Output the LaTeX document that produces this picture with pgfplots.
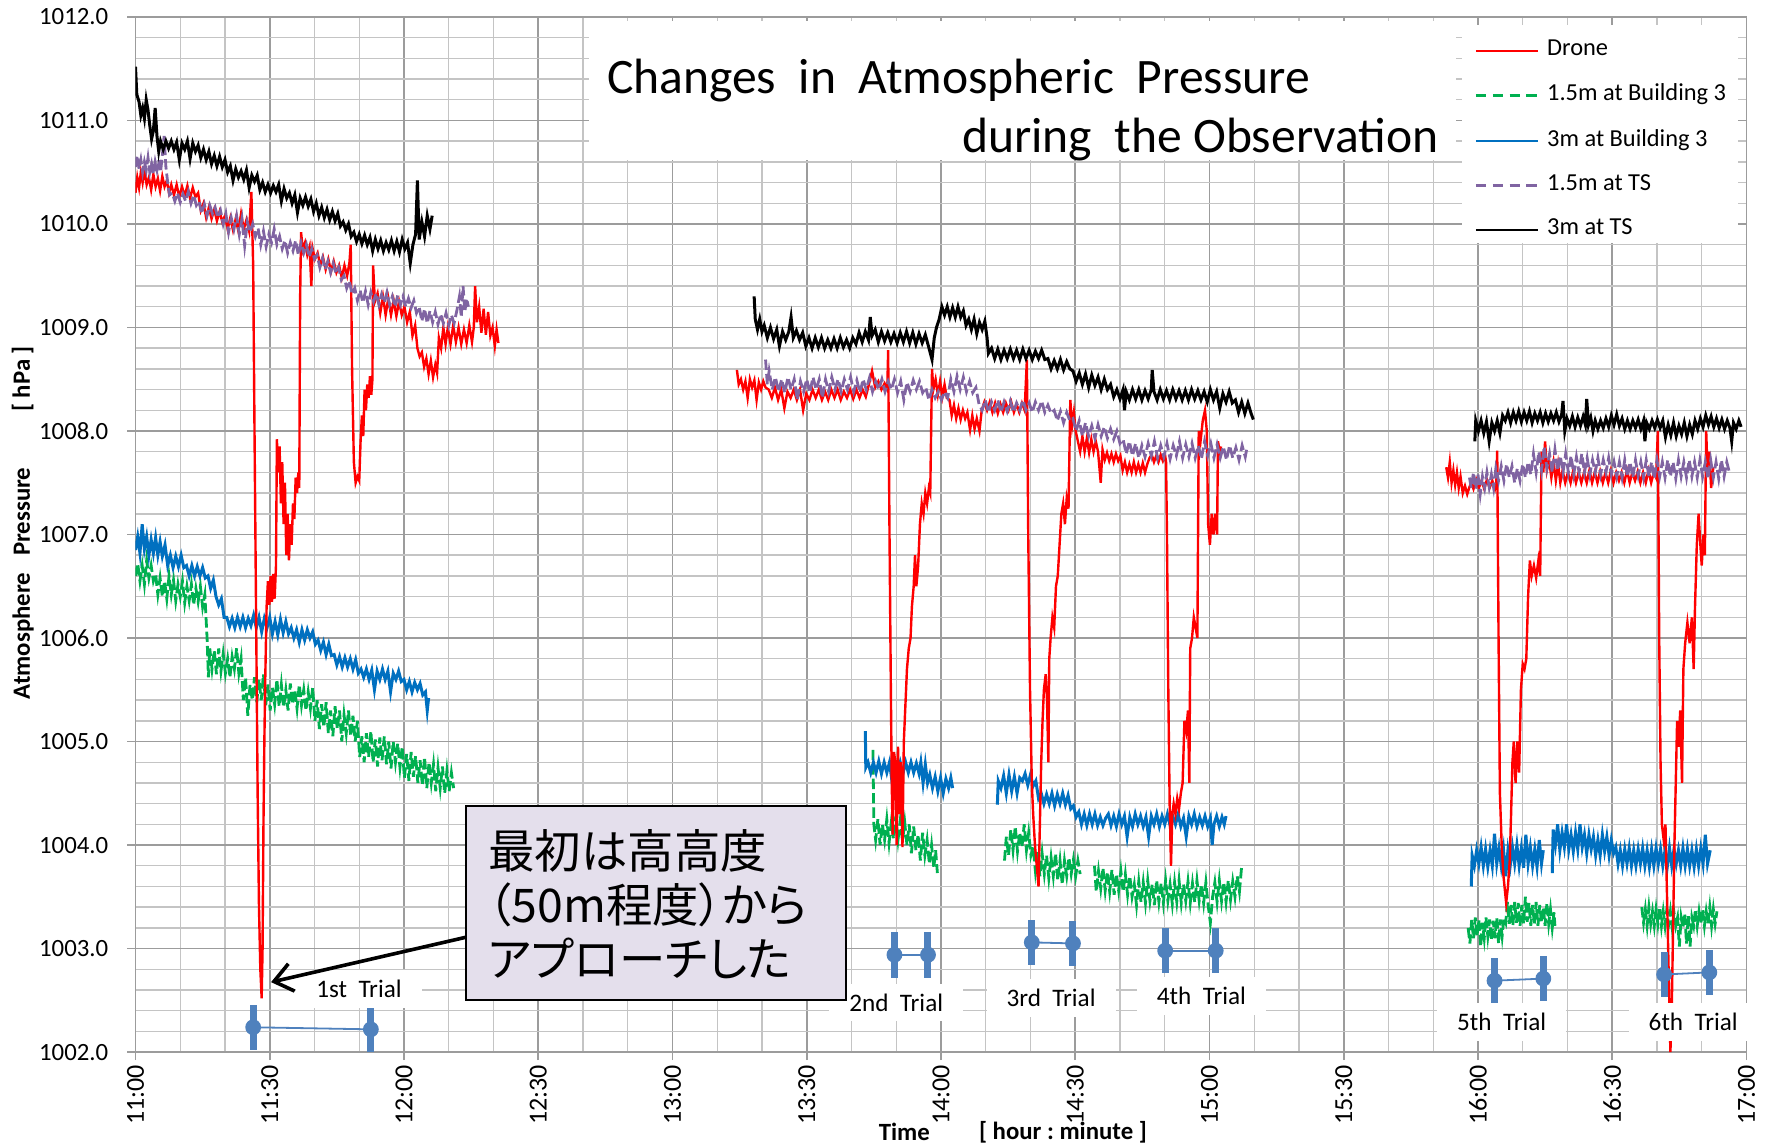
\documentclass[border=0pt]{standalone}
\usepackage{fontspec}
\setmainfont{Carlito}
\newfontfamily\cjk[RawFeature=+palt]{Noto Sans CJK JP}
\usepackage{pgfplots}
\pgfplotsset{compat=1.18}
\usetikzlibrary{arrows.meta}
\definecolor{drone}{HTML}{FF0000}
\definecolor{gB}{HTML}{00B050}
\definecolor{bB}{HTML}{0070C0}
\definecolor{pT}{HTML}{8064A2}
\definecolor{trial}{HTML}{4F81BD}
\definecolor{majgrid}{HTML}{9C9C9C}
\definecolor{mingrid}{HTML}{C4C4C4}
\definecolor{annot}{HTML}{E4DFEC}
\newcommand{\ticksz}{\fontsize{6.2pt}{7pt}\selectfont}
\newcommand{\xticksz}{\fontsize{6.5pt}{7pt}\selectfont}
\newcommand{\legsz}{\fontsize{6.1pt}{7pt}\selectfont}
\newcommand{\titlesz}{\fontsize{12.4pt}{14pt}\selectfont}
\newcommand{\trialsz}{\fontsize{6.3pt}{7pt}\selectfont}
\newcommand{\labsz}{\fontsize{6.2pt}{7pt}\selectfont\bfseries}
\newcommand{\notesz}{\fontsize{11.6pt}{13.5pt}\selectfont}
\begin{document}
\begin{tikzpicture}
\path[use as bounding box] (-33.87pt,-23.45pt) rectangle (408.63pt,263.03pt);
\begin{axis}[
  at={(0,0)}, anchor=south west,
  scale only axis, width=402.75pt, height=258.8pt,
  xmin=0, xmax=360, ymin=1002, ymax=1012,
  xtick={0,30,...,360},
  xticklabels={11:00,11:30,12:00,12:30,13:00,13:30,14:00,14:30,15:00,15:30,16:00,16:30,17:00},
  ytick={1002,1003,...,1012},
  yticklabels={1002.0,1003.0,1004.0,1005.0,1006.0,1007.0,1008.0,1009.0,1010.0,1011.0,1012.0},
  minor xtick={10,20,40,50,70,80,100,110,130,140,160,170,190,200,220,230,250,260,280,290,310,320,340,350},
  minor ytick={1002.2,1002.4,1002.6,1002.8,1003.2,1003.4,1003.6,1003.8,1004.2,1004.4,1004.6,1004.8,1005.2,1005.4,1005.6,1005.8,1006.2,1006.4,1006.6,1006.8,1007.2,1007.4,1007.6,1007.8,1008.2,1008.4,1008.6,1008.8,1009.2,1009.4,1009.6,1009.8,1010.2,1010.4,1010.6,1010.8,1011.2,1011.4,1011.6,1011.8},
  grid=both,
  major grid style={majgrid, line width=0.42pt},
  minor grid style={mingrid, line width=0.36pt},
  axis line style={majgrid, line width=0.45pt},
  tick align=outside, major tick length=2pt, minor tick length=0pt,
  tick style={majgrid, line width=0.4pt},
  xtick pos=bottom, ytick pos=left,
  tick label style={font=\ticksz},
  xticklabel style={rotate=90, anchor=east, inner sep=1pt, font=\xticksz},
  yticklabel style={inner sep=1pt, xshift=-3.6pt},
  clip mode=individual,
  unbounded coords=jump,
  legend style={at={(0.8234,0.9978)}, anchor=north west, draw=none, fill=none, font=\legsz, inner xsep=3pt, inner ysep=3pt, row sep=1.6pt},
  legend image code/.code={\draw[#1] (0pt,0pt) -- (15.5pt,0pt);},
  legend cell align=left,
]
\addlegendimage{drone, line width=0.6pt}\addlegendentry{Drone}
\addlegendimage{gB, line width=0.6pt, dash pattern=on 2.6pt off 1.6pt}\addlegendentry{1.5m at Building 3}
\addlegendimage{bB, line width=0.6pt}\addlegendentry{3m at Building 3}
\addlegendimage{pT, line width=0.6pt, dash pattern=on 2.6pt off 1.6pt}\addlegendentry{1.5m at TS}
\addlegendimage{black, line width=0.6pt}\addlegendentry{3m at TS}

% 1.5m at Building 3
\addplot[gB, line width=0.7pt, dash pattern=on 2.6pt off 1pt, forget plot] coordinates {
(0,1006.6) (0.5,1006.72) (1.0,1006.55) (1.5,1006.7) (2.0,1006.52) (2.5,1006.75) (3.0,1006.58) (3.5,1006.7) (4.0,1006.55) (4.5,1006.62) (5.0,1006.42) (5.5,1006.58) (6.0,1006.4) (6.5,1006.55) (7.0,1006.38) (7.5,1006.6) (8.0,1006.42) (8.5,1006.56) (9.0,1006.36) (9.5,1006.52) (10.0,1006.4) (10.5,1006.55) (11.0,1006.34) (11.5,1006.5) (12.0,1006.36) (12.5,1006.52) (13.0,1006.32) (13.5,1006.48) (14.0,1006.35) (14.5,1006.5) (15.0,1006.3) (15.5,1006.42) (16.0,1006.0) (16.3,1005.62) (16.6,1005.9) (17.1,1005.7) (17.6,1005.88) (18.1,1005.65) (18.6,1005.9) (19.1,1005.68) (19.6,1005.85) (20.1,1005.66) (20.6,1005.8) (21.1,1005.62) (21.6,1005.82) (22.1,1005.7) (22.6,1005.9) (23.1,1005.66) (23.6,1005.8) (24.1,1005.4) (24.6,1005.62) (25.1,1005.25) (25.6,1005.55) (26.1,1005.4) (26.6,1005.62) (27.1,1005.38) (27.6,1005.6) (28.1,1005.4) (28.6,1005.65) (29.1,1005.35) (29.6,1005.55) (30.1,1005.3) (30.6,1005.52) (31.1,1005.36) (31.6,1005.6) (32.1,1005.34) (32.6,1005.55) (33.1,1005.33) (33.6,1005.5) (34.1,1005.3) (34.6,1005.56) (35.1,1005.36) (35.6,1005.5) (36.1,1005.32) (36.6,1005.55) (37.1,1005.35) (37.6,1005.5) (38.1,1005.3) (38.6,1005.48) (39.1,1005.32) (39.6,1005.52) (40.1,1005.2) (40.6,1005.4) (41.1,1005.12) (41.6,1005.36) (42.1,1005.14) (42.6,1005.38) (43.1,1005.08) (43.6,1005.3) (44.1,1005.05) (44.6,1005.34) (45.1,1005.12) (45.6,1005.3) (46.1,1005.0) (46.6,1005.26) (47.1,1005.08) (47.6,1005.3) (48.1,1005.05) (48.6,1005.25) (49.1,1005.0) (49.6,1005.2) (50.1,1004.85) (50.6,1005.05) (51.1,1004.8) (51.6,1005.08) (52.1,1004.85) (52.6,1005.1) (53.1,1004.8) (53.6,1005.02) (54.1,1004.76) (54.6,1005.04) (55.1,1004.82) (55.6,1005.05) (56.1,1004.78) (56.6,1005.0) (57.1,1004.74) (57.6,1005.0) (58.1,1004.8) (58.6,1004.98) (59.1,1004.75) (59.6,1004.95) (60.1,1004.65) (60.6,1004.88) (61.1,1004.62) (61.6,1004.9) (62.1,1004.66) (62.6,1004.86) (63.1,1004.6) (63.6,1004.82) (64.1,1004.58) (64.6,1004.85) (65.1,1004.55) (65.6,1004.8) (66.1,1004.6) (66.6,1004.78) (67.1,1004.52) (67.6,1004.75) (68.1,1004.55) (68.6,1004.76) (69.1,1004.5) (69.6,1004.72) (70.1,1004.52) (70.6,1004.7) (71.1,1004.55)
(120,nan)
(164.8,1004.92) (165.0,1004.2) (165.4,1004.05) (165.9,1004.25) (166.4,1004.0) (166.9,1004.2) (167.4,1004.05) (167.9,1004.25) (168.4,1004.02) (168.9,1004.22) (169.4,1004.06) (169.9,1004.28) (170.4,1004.05) (170.9,1004.24) (171.4,1004.04) (171.9,1004.22) (172.4,1004.0) (172.9,1004.2) (173.4,1003.92) (173.9,1004.18) (174.4,1003.95) (174.9,1004.1) (175.4,1003.85) (175.9,1004.12) (176.4,1003.9) (176.9,1004.05) (177.4,1003.82) (177.9,1004.0) (178.4,1003.78) (178.8,1003.95) (179.2,1003.73)
(185,nan)
(194.2,1003.85) (194.6,1004.08) (195.1,1003.9) (195.6,1004.15) (196.1,1003.95) (196.6,1004.18) (197.1,1003.94) (197.6,1004.12) (198.1,1003.98) (198.6,1004.2) (199.1,1003.95) (199.6,1004.12) (200.1,1003.9) (200.6,1003.98) (201.1,1003.75) (201.6,1003.95) (202.1,1003.7) (202.6,1003.92) (203.1,1003.72) (203.6,1003.9) (204.1,1003.68) (204.6,1003.88) (205.1,1003.7) (205.6,1003.92) (206.1,1003.66) (206.6,1003.85) (207.1,1003.62) (207.6,1003.85) (208.1,1003.7) (208.6,1003.88) (209.1,1003.72) (209.6,1003.86) (210.1,1003.7) (210.6,1003.85) (211.1,1003.72)
(212.5,nan)
(214.3,1003.8) (214.7,1003.55) (215.2,1003.75) (215.7,1003.58) (216.2,1003.78) (216.7,1003.56) (217.2,1003.74) (217.7,1003.55) (218.2,1003.76) (218.7,1003.52) (219.2,1003.72) (219.7,1003.56) (220.2,1003.75) (220.7,1003.55) (221.2,1003.72) (221.7,1003.52) (222.2,1003.7) (222.7,1003.5) (223.2,1003.62) (223.7,1003.42) (224.2,1003.65) (224.7,1003.45) (225.2,1003.64) (225.7,1003.44) (226.2,1003.66) (226.7,1003.46) (227.2,1003.62) (227.7,1003.42) (228.2,1003.66) (228.7,1003.45) (229.2,1003.63) (229.7,1003.44) (230.2,1003.66) (230.7,1003.46) (231.2,1003.62) (231.7,1003.43) (232.2,1003.64) (232.7,1003.45) (233.2,1003.66) (233.7,1003.44) (234.2,1003.62) (234.7,1003.46) (235.2,1003.65) (235.7,1003.44) (236.2,1003.63) (236.7,1003.45) (237.2,1003.66) (237.7,1003.46) (238.2,1003.62) (238.7,1003.44) (239.2,1003.64) (239.7,1003.42) (240.2,1003.25) (240.7,1003.5) (241.2,1003.64) (241.7,1003.45) (242.2,1003.66) (242.7,1003.46) (243.2,1003.64) (243.7,1003.45) (244.2,1003.66) (244.7,1003.47) (245.2,1003.65) (245.7,1003.5) (246.2,1003.7) (246.7,1003.55) (247.2,1003.8)
(270,nan)
(297.8,1003.2) (298.2,1003.05) (298.6,1003.28) (299.0,1003.1) (299.4,1003.3) (299.8,1003.12) (300.2,1003.28) (300.6,1003.02) (301.0,1003.25) (301.4,1003.1) (301.8,1003.3) (302.2,1003.12) (302.6,1003.28) (303.0,1003.08) (303.4,1003.27) (303.8,1003.1) (304.2,1003.3) (304.6,1003.05) (305.0,1003.28) (305.4,1003.12) (305.8,1003.3) (306.2,1003.25) (306.6,1003.45) (307.0,1003.24) (307.4,1003.42) (307.8,1003.22) (308.2,1003.45) (308.6,1003.25) (309.0,1003.44) (309.4,1003.22) (309.8,1003.42) (310.2,1003.24) (310.6,1003.5) (311.0,1003.26) (311.4,1003.44) (311.8,1003.22) (312.2,1003.42) (312.6,1003.24) (313.0,1003.45) (313.4,1003.22) (313.8,1003.42) (314.2,1003.25) (314.6,1003.4) (315.0,1003.22) (315.4,1003.44) (315.8,1003.24) (316.2,1003.38) (316.6,1003.2) (317.0,1003.35) (317.2,1003.22)
(325,nan)
(336.6,1003.4) (337.0,1003.25) (337.4,1003.38) (337.8,1003.22) (338.2,1003.4) (338.6,1003.24) (339.0,1003.36) (339.4,1003.22) (339.8,1003.38) (340.2,1003.24) (340.6,1003.4) (341.0,1003.22) (341.4,1003.36) (341.8,1003.22) (342.2,1003.38) (342.6,1003.23) (343.0,1003.36) (343.4,1003.2) (343.8,1003.35) (344.2,1003.22) (344.6,1003.3) (345.0,1003.02) (345.4,1003.3) (345.8,1003.2) (346.2,1003.34) (346.6,1003.05) (347.0,1003.32) (347.4,1003.02) (347.8,1003.3) (348.2,1003.22) (348.6,1003.38) (349.0,1003.22) (349.4,1003.36) (349.8,1003.24) (350.2,1003.38) (350.6,1003.22) (351.0,1003.36) (351.4,1003.24) (351.8,1003.4) (352.2,1003.22) (352.6,1003.38) (353.0,1003.24) (353.4,1003.36)
};

% 3m at Building 3
\addplot[bB, line width=0.75pt, forget plot] coordinates {
(0,1006.85) (0.5,1006.98) (1.0,1006.82) (1.5,1007.1) (2.0,1006.86) (2.5,1006.98) (3.0,1006.8) (3.5,1006.95) (4.0,1006.82) (4.5,1006.97) (5.0,1006.8) (5.5,1006.93) (6.0,1006.79) (6.6,1006.9) (7.2,1006.7) (7.8,1006.8) (8.4,1006.68) (9.0,1006.79) (9.6,1006.69) (10.2,1006.8) (10.8,1006.68) (11.4,1006.7) (12.0,1006.6) (12.6,1006.7) (13.2,1006.6) (13.8,1006.69) (14.4,1006.6) (15.0,1006.68) (15.6,1006.58) (16.2,1006.6) (16.8,1006.48) (17.4,1006.56) (18.0,1006.4) (18.6,1006.32) (19.2,1006.38) (19.8,1006.2) (20.4,1006.2) (21.0,1006.11) (21.6,1006.19) (22.2,1006.1) (22.8,1006.2) (23.4,1006.11) (24.0,1006.2) (24.6,1006.1) (25.2,1006.19) (25.8,1006.12) (26.4,1006.22) (27.0,1006.1) (27.6,1006.2) (28.2,1006.06) (28.8,1006.19) (29.4,1006.1) (30.0,1006.2) (30.6,1006.04) (31.2,1006.16) (31.8,1006.03) (32.4,1006.18) (33.0,1006.05) (33.6,1006.16) (34.2,1006.04) (34.8,1006.1) (35.4,1006.0) (36.0,1006.08) (36.6,1005.96) (37.2,1006.08) (37.8,1005.98) (38.4,1006.08) (39.0,1006.0) (39.6,1006.06) (40.2,1005.94) (40.8,1005.98) (41.4,1005.88) (42.0,1005.96) (42.6,1005.84) (43.2,1005.94) (43.8,1005.83) (44.4,1005.84) (45.0,1005.74) (45.6,1005.82) (46.2,1005.72) (46.8,1005.81) (47.4,1005.72) (48.0,1005.8) (48.6,1005.7) (49.2,1005.79) (49.8,1005.66) (50.4,1005.7) (51.0,1005.62) (51.6,1005.7) (52.2,1005.6) (52.8,1005.69) (53.4,1005.5) (54.0,1005.68) (54.6,1005.6) (55.2,1005.7) (55.8,1005.6) (56.4,1005.68) (57.0,1005.48) (57.6,1005.66) (58.2,1005.6) (58.8,1005.68) (59.4,1005.58) (60.0,1005.6) (60.6,1005.5) (61.2,1005.58) (61.8,1005.48) (62.4,1005.57) (63.0,1005.5) (63.6,1005.56) (64.2,1005.45) (64.8,1005.48) (65.2,1005.3) (65.5,1005.42)
(120,nan)
(163.1,1005.1) (163.2,1004.75) (163.7,1004.8) (164.3,1004.7) (164.9,1004.8) (165.5,1004.7) (166.1,1004.81) (166.7,1004.69) (167.3,1004.8) (167.9,1004.7) (168.5,1004.8) (169.1,1004.6) (169.7,1004.79) (170.3,1004.7) (170.9,1004.8) (171.5,1004.69) (172.1,1004.8) (172.7,1004.7) (173.3,1004.8) (173.9,1004.7) (174.5,1004.79) (175.1,1004.69) (175.5,1004.8) (176.0,1004.6) (176.5,1004.78) (177.0,1004.6) (177.5,1004.68) (178.1,1004.55) (178.7,1004.66) (179.3,1004.52) (179.9,1004.65) (180.5,1004.5) (181.1,1004.64) (181.7,1004.55) (182.2,1004.65) (182.6,1004.55)
(187,nan)
(192.6,1004.39) (192.8,1004.62) (193.4,1004.55) (194.0,1004.67) (194.6,1004.5) (195.2,1004.68) (195.8,1004.52) (196.4,1004.66) (197.0,1004.5) (197.6,1004.65) (198.2,1004.62) (198.8,1004.69) (199.4,1004.58) (200.0,1004.68) (200.6,1004.57) (201.2,1004.62) (201.8,1004.45) (202.4,1004.5) (203.0,1004.4) (203.6,1004.49) (204.2,1004.4) (204.8,1004.5) (205.4,1004.38) (206.0,1004.49) (206.6,1004.4) (207.2,1004.5) (207.8,1004.39) (208.4,1004.48) (209.0,1004.35) (209.6,1004.38) (210.2,1004.27) (210.8,1004.32) (211.4,1004.2) (212.0,1004.3) (212.6,1004.19) (213.2,1004.3) (213.8,1004.2) (214.4,1004.3) (215.0,1004.19) (215.6,1004.27) (216.2,1004.19) (216.8,1004.26) (217.4,1004.3) (218.0,1004.19) (218.6,1004.28) (219.2,1004.18) (219.8,1004.3) (220.4,1004.2) (221.0,1004.28) (221.6,1004.08) (222.2,1004.27) (222.8,1004.18) (223.4,1004.3) (224.0,1004.2) (224.6,1004.28) (225.2,1004.18) (225.8,1004.27) (226.4,1004.08) (227.0,1004.28) (227.6,1004.2) (228.2,1004.3) (228.8,1004.18) (229.4,1004.28) (230.0,1004.2) (230.6,1004.3) (231.2,1004.19) (231.8,1004.28) (232.4,1004.2) (233.0,1004.3) (233.6,1004.18) (234.2,1004.26) (234.8,1004.08) (235.4,1004.28) (236.0,1004.2) (236.6,1004.3) (237.2,1004.18) (237.8,1004.27) (238.4,1004.19) (239.0,1004.28) (239.6,1004.18) (240.2,1004.26) (240.6,1004.0) (241.0,1004.2) (241.6,1004.28) (242.2,1004.18) (242.8,1004.27) (243.3,1004.2) (243.7,1004.28)
(270,nan)
(298.5,1003.6) (298.7,1003.9) (299.2,1003.8) (299.7,1003.95) (300.2,1003.82) (300.7,1003.98) (301.2,1003.8) (301.7,1003.96) (302.2,1003.79) (302.7,1003.95) (303.2,1003.8) (303.7,1004.11) (304.2,1003.82) (304.7,1003.97) (305.2,1003.8) (305.7,1003.96) (306.2,1003.7) (306.7,1003.95) (307.2,1003.8) (307.7,1003.98) (308.2,1003.82) (308.7,1004.0) (309.2,1003.8) (309.7,1003.97) (310.2,1003.78) (310.7,1004.1) (311.2,1003.82) (311.7,1003.98) (312.2,1003.8) (312.7,1003.96) (313.2,1003.79) (313.7,1004.05) (314.2,1003.82) (314.6,1003.95)
(315.6,nan)
(316.6,1003.73) (316.8,1004.15) (317.3,1004.0) (317.8,1004.2) (318.3,1003.95) (318.8,1004.12) (319.3,1003.98) (319.8,1004.2) (320.3,1003.96) (320.8,1004.1) (321.3,1003.94) (321.8,1004.12) (322.3,1003.96) (322.8,1004.2) (323.3,1003.98) (323.8,1004.1) (324.3,1003.92) (324.8,1004.1) (325.3,1003.96) (325.8,1004.08) (326.3,1003.9) (326.8,1004.05) (327.3,1003.9) (327.8,1004.1) (328.3,1003.94) (328.8,1004.08) (329.3,1003.9) (329.8,1004.05) (330.3,1003.92) (330.8,1003.98) (331.3,1003.82) (331.8,1003.95) (332.3,1003.8) (332.8,1003.96) (333.3,1003.82) (333.8,1003.97) (334.3,1003.8) (334.8,1003.95) (335.3,1003.8) (335.8,1003.96) (336.3,1003.82) (336.8,1003.97) (337.3,1003.8) (337.8,1003.95) (338.3,1003.79) (338.8,1003.96) (339.3,1003.8) (339.8,1003.97) (340.3,1003.82) (340.8,1003.96) (341.3,1003.8) (341.8,1003.95) (342.3,1003.79) (342.8,1003.97) (343.3,1003.8) (343.8,1003.96) (344.3,1003.82) (344.8,1003.95) (345.3,1003.8) (345.8,1003.97) (346.3,1003.8) (346.8,1003.96) (347.3,1003.8) (347.8,1003.95) (348.3,1003.79) (348.8,1003.96) (349.3,1003.8) (349.8,1003.97) (350.3,1003.82) (350.8,1004.1) (351.3,1003.82) (351.9,1003.95)
};

% Drone
\addplot[drone, line width=0.6pt, forget plot] coordinates {
(0,1010.3) (0.4,1010.45) (0.8,1010.35) (1.2,1010.5) (1.6,1010.4) (2.0,1010.52) (2.5,1010.38) (3.0,1010.45) (3.5,1010.33) (4.0,1010.48) (4.5,1010.36) (5.0,1010.44) (5.5,1010.32) (6.0,1010.46) (6.5,1010.36) (7.0,1010.42) (7.5,1010.3) (8.0,1010.38) (8.6,1010.28) (9.2,1010.38) (9.8,1010.26) (10.4,1010.36) (11.0,1010.27) (11.6,1010.37) (12.2,1010.25) (12.8,1010.35) (13.4,1010.26) (14.0,1010.3) (14.6,1010.13) (15.2,1010.2) (15.8,1010.06) (16.4,1010.16) (17.0,1010.05) (17.6,1010.14) (18.2,1010.03) (18.8,1010.12) (19.4,1010.02) (20.0,1010.08) (20.6,1009.95) (21.2,1010.06) (21.8,1009.94) (22.4,1010.05) (23.0,1009.93) (23.6,1010.1) (24.2,1009.95) (24.8,1010.04) (25.4,1009.93) (25.9,1010.31) (26.3,1009.6)
(26.6,1008.0) (27.0,1006.0) (27.3,1004.5) (27.6,1003.4) (27.9,1002.8) (28.2,1002.52) (28.4,1003.0) (28.6,1004.2) (28.8,1005.0) (29.0,1005.6) (29.3,1006.3) (29.6,1006.55) (29.9,1006.32) (30.2,1006.6) (30.5,1006.35) (30.8,1006.62) (31.1,1006.38) (31.4,1006.7) (31.6,1007.92) (31.9,1007.6) (32.2,1007.85) (32.5,1007.3) (32.8,1007.7) (33.1,1007.1) (33.4,1007.5) (33.7,1006.8) (34.0,1007.2) (34.3,1006.75) (34.6,1007.1) (34.9,1006.9) (35.2,1007.3) (35.5,1007.15) (35.8,1007.55) (36.1,1007.4) (36.4,1007.6) (36.6,1007.45) (36.8,1009.3) (37.0,1009.92) (37.4,1009.75) (37.9,1009.82) (38.4,1009.7) (38.9,1009.78) (39.3,1009.4) (39.6,1009.76) (40.1,1009.66) (40.7,1009.72) (41.3,1009.6) (41.9,1009.68) (42.5,1009.56) (43.1,1009.66) (43.7,1009.54) (44.3,1009.64) (44.9,1009.53) (45.5,1009.6) (46.1,1009.48) (46.7,1009.6) (47.3,1009.5) (47.8,1009.62) (48.1,1009.8)
(48.4,1008.6) (48.8,1007.7) (49.2,1007.5) (49.6,1007.56) (50.0,1007.52) (50.3,1007.9) (50.6,1008.15) (50.9,1007.95) (51.2,1008.4) (51.5,1008.2) (51.8,1008.45) (52.1,1008.32) (52.4,1008.53) (52.7,1008.35) (52.95,1008.5) (53.1,1009.6) (53.5,1009.25) (54.1,1009.33) (54.7,1009.14) (55.3,1009.3) (55.9,1009.12) (56.5,1009.28) (57.1,1009.12) (57.7,1009.26) (58.3,1009.11) (58.9,1009.25) (59.5,1009.12) (60.1,1009.2) (60.7,1009.05) (61.3,1009.15) (61.9,1008.92) (62.5,1009.02) (63.0,1008.8) (63.5,1008.72) (64.0,1008.76) (64.5,1008.62) (65.0,1008.7) (65.5,1008.55) (66.0,1008.68) (66.5,1008.52) (67.0,1008.64) (67.4,1008.56) (67.8,1008.9) (68.3,1008.8) (68.8,1009.0) (69.3,1008.84) (69.8,1009.0) (70.4,1008.84) (71.0,1009.02) (71.6,1008.86) (72.2,1009.0) (72.8,1008.84) (73.4,1008.98) (74.0,1008.85) (74.6,1009.02) (75.2,1008.86) (75.6,1009.0) (75.9,1009.4) (76.3,1009.05) (76.8,1009.2) (77.3,1008.95) (77.8,1009.18) (78.3,1008.93) (78.8,1009.15) (79.3,1008.92) (79.8,1009.0) (80.3,1008.82) (80.7,1008.98) (81.1,1008.85)
(110,nan)
(134.4,1008.59) (134.8,1008.45) (135.3,1008.5) (135.8,1008.4) (136.3,1008.48) (136.8,1008.32) (137.3,1008.5) (137.8,1008.42) (138.3,1008.49) (138.8,1008.3) (139.3,1008.47) (139.8,1008.4) (140.3,1008.48) (140.8,1008.42) (141.5,1008.4) (142.2,1008.32) (142.9,1008.42) (143.6,1008.3) (144.3,1008.4) (145.0,1008.22) (145.7,1008.38) (146.4,1008.32) (147.1,1008.4) (147.8,1008.3) (148.5,1008.4) (149.2,1008.2) (149.9,1008.36) (150.6,1008.3) (151.3,1008.4) (152.0,1008.32) (152.7,1008.4) (153.4,1008.3) (154.1,1008.38) (154.8,1008.3) (155.5,1008.4) (156.2,1008.32) (156.9,1008.4) (157.6,1008.3) (158.3,1008.38) (159.0,1008.32) (159.7,1008.4) (160.4,1008.31) (161.1,1008.4) (161.8,1008.32) (162.5,1008.4) (163.2,1008.33) (163.9,1008.45) (164.6,1008.58) (165.3,1008.42) (166.0,1008.48) (166.7,1008.4) (167.4,1008.46) (168.0,1008.4) (168.2,1008.78)
(168.5,1007.0) (168.8,1005.5) (169.0,1004.6) (169.2,1004.1) (169.5,1004.9) (169.8,1004.8) (170.1,1004.0) (170.4,1004.95) (170.7,1004.3) (171.0,1004.8) (171.4,1003.98) (171.7,1005.0) (172.0,1005.3) (172.4,1005.7) (172.8,1005.9) (173.2,1006.0) (173.5,1006.3) (173.9,1006.5) (174.2,1006.8) (174.5,1006.5) (174.9,1006.7) (175.3,1007.1) (175.7,1007.3) (176.1,1007.2) (176.5,1007.4) (176.9,1007.3) (177.3,1007.45) (177.6,1007.4) (178.0,1008.6)
(178.3,1008.4) (178.8,1008.5) (179.3,1008.35) (179.8,1008.48) (180.3,1008.33) (180.8,1008.45) (181.3,1008.32) (181.9,1008.3) (182.4,1008.15) (182.9,1008.25) (183.4,1008.12) (183.9,1008.22) (184.4,1008.11) (184.9,1008.2) (185.4,1008.12) (185.9,1008.18) (186.5,1008.01) (187.0,1008.15) (187.5,1008.02) (188.0,1008.12) (188.6,1008.0) (189.1,1008.2) (189.7,1008.28) (190.3,1008.2) (190.9,1008.28) (191.5,1008.18) (192.1,1008.27) (192.7,1008.17) (193.3,1008.26) (193.9,1008.18) (194.5,1008.27) (195.1,1008.2) (195.7,1008.28) (196.3,1008.18) (196.9,1008.26) (197.5,1008.18) (198.1,1008.27) (198.7,1008.2) (199.0,1008.5) (199.2,1008.69)
(199.5,1007.0) (199.9,1005.5) (200.3,1004.6) (200.6,1004.3) (201.0,1004.0) (201.4,1003.8) (201.8,1003.6) (202.1,1004.2) (202.4,1004.8) (202.7,1005.2) (203.0,1005.5) (203.4,1005.65) (203.7,1005.4) (204.0,1004.8) (204.2,1005.8) (204.5,1006.0) (204.9,1006.2) (205.3,1006.1) (205.7,1006.5) (206.1,1006.6) (206.5,1006.9) (206.9,1007.2) (207.3,1007.3) (207.7,1007.1) (208.1,1007.35) (208.5,1007.25) (208.9,1008.3)
(209.3,1008.05) (209.7,1008.18) (210.1,1008.0) (210.6,1007.9) (211.1,1007.8) (211.6,1007.95) (212.1,1007.8) (212.6,1007.93) (213.1,1007.79) (213.6,1007.92) (214.1,1007.8) (214.6,1007.9) (215.1,1007.8) (215.7,1007.5) (216.1,1007.82) (216.6,1007.72) (217.1,1007.79) (217.6,1007.71) (218.1,1007.78) (218.6,1007.7) (219.1,1007.78) (219.6,1007.71) (220.1,1007.76) (220.6,1007.62) (221.1,1007.7) (221.6,1007.6) (222.1,1007.68) (222.6,1007.6) (223.1,1007.7) (223.6,1007.6) (224.1,1007.68) (224.6,1007.6) (225.1,1007.69) (225.6,1007.6) (226.1,1007.68) (226.6,1007.74) (227.1,1007.77) (227.6,1007.7) (228.1,1007.76) (228.6,1007.7) (229.1,1007.77) (229.6,1007.71) (230.1,1007.76) (230.3,1007.7)
(230.5,1007.0) (230.8,1005.5) (231.1,1004.4) (231.4,1003.8) (231.7,1004.3) (232.0,1004.4) (232.4,1004.3) (232.8,1004.45) (233.2,1004.35) (233.6,1004.5) (234.0,1004.6) (234.4,1005.2) (234.8,1005.1) (235.2,1005.3) (235.5,1004.6) (235.7,1005.9) (236.1,1006.0) (236.5,1006.2) (236.9,1006.1) (237.3,1006.0) (237.6,1008.0) (238.0,1007.9) (238.5,1008.1) (239.0,1008.2) (239.4,1008.0) (239.7,1007.1) (240.1,1006.9) (240.5,1007.2) (240.9,1007.0) (241.3,1007.2) (241.7,1007.0) (241.9,1007.9) (242.3,1007.8) (242.6,1007.85)
(270,nan)
(292.9,1007.65) (293.3,1007.55) (293.7,1007.7) (294.1,1007.5) (294.5,1007.62) (294.9,1007.48) (295.3,1007.6) (295.7,1007.45) (296.1,1007.56) (296.6,1007.4) (297.1,1007.47) (297.6,1007.39) (298.1,1007.46) (298.5,1007.5) (299.0,1007.44) (299.6,1007.53) (300.2,1007.45) (300.8,1007.52) (301.4,1007.44) (302.0,1007.53) (302.6,1007.45) (303.2,1007.52) (303.8,1007.44) (304.1,1007.5) (304.3,1007.81)
(304.6,1006.0) (304.9,1004.5) (305.3,1004.0) (305.7,1003.7) (306.3,1003.44) (306.7,1003.6) (307.1,1003.85) (307.4,1004.3) (307.7,1004.8) (308.0,1005.0) (308.4,1004.6) (308.8,1005.0) (309.2,1004.7) (309.6,1005.5) (310.0,1005.75) (310.4,1005.7) (310.8,1005.8) (311.2,1006.4) (311.6,1006.75) (312.0,1006.6) (312.5,1006.7) (313.0,1006.58) (313.5,1006.75) (313.9,1006.6) (314.2,1007.8) (314.6,1007.6)
(315.0,1007.9) (315.4,1007.62) (315.9,1007.72) (316.4,1007.55) (316.9,1007.7) (317.4,1007.52) (317.9,1007.68) (318.4,1007.5) (318.9,1007.62) (319.5,1007.5) (320.1,1007.6) (320.7,1007.5) (321.3,1007.62) (321.9,1007.5) (322.5,1007.6) (323.1,1007.5) (323.7,1007.6) (324.3,1007.5) (324.9,1007.62) (325.5,1007.5) (326.1,1007.6) (326.7,1007.5) (327.3,1007.61) (327.9,1007.5) (328.5,1007.6) (329.1,1007.5) (329.7,1007.62) (330.3,1007.5) (330.9,1007.6) (331.5,1007.52) (332.1,1007.6) (332.7,1007.5) (333.3,1007.62) (333.9,1007.5) (334.5,1007.6) (335.1,1007.52) (335.7,1007.61) (336.3,1007.5) (336.9,1007.6) (337.5,1007.5) (338.1,1007.62) (338.7,1007.5) (339.3,1007.6) (339.8,1007.55) (340.2,1008.0)
(340.5,1006.0) (340.8,1004.8) (341.1,1004.2) (341.5,1004.05) (341.9,1004.2) (342.3,1003.4) (342.7,1002.6) (343.0,1002.0) (343.3,1002.4) (343.6,1003.2) (343.9,1004.0) (344.2,1004.6) (344.5,1005.2) (344.8,1004.95) (345.2,1005.3) (345.6,1004.6) (345.9,1005.7) (346.3,1005.95) (346.8,1006.15) (347.3,1005.95) (347.8,1006.2) (348.2,1005.7) (348.5,1006.3) (348.9,1006.9) (349.3,1007.2) (349.7,1006.9) (350.0,1006.7) (350.4,1007.0) (350.7,1006.8) (351.0,1008.0) (351.3,1007.6) (351.7,1007.8) (352.1,1007.45) (352.6,1007.65)
};

% 1.5m at TS
\addplot[pT, line width=0.7pt, dash pattern=on 2.6pt off 1pt, forget plot] coordinates {
(0,1010.55) (0.4,1010.66) (0.8,1010.53) (1.2,1010.62) (1.6,1010.5) (2.0,1010.6) (2.4,1010.52) (2.8,1010.64) (3.2,1010.5) (3.6,1010.58) (4.0,1010.48) (4.4,1010.6) (4.8,1010.52) (5.2,1010.62) (5.6,1010.5) (6.0,1010.66) (6.4,1010.85) (6.8,1010.55) (7.2,1010.4) (7.6,1010.28) (8.2,1010.3) (8.8,1010.22) (9.4,1010.3) (10.0,1010.21) (10.6,1010.29) (11.2,1010.22) (11.8,1010.31) (12.4,1010.2) (13.0,1010.28) (13.6,1010.18) (14.2,1010.22) (14.8,1010.1) (15.4,1010.19) (16.0,1010.08) (16.6,1010.18) (17.2,1010.1) (17.8,1010.16) (18.4,1010.06) (19.0,1010.13) (19.6,1010.0) (20.2,1010.1) (20.8,1009.92) (21.4,1010.06) (22.0,1009.95) (22.6,1010.08) (23.2,1009.9) (23.8,1010.05) (24.4,1009.79) (25.0,1010.02) (25.6,1009.92) (26.2,1010.0) (26.8,1009.88) (27.4,1009.96) (28.0,1009.8) (28.6,1009.93) (29.2,1009.78) (29.8,1009.9) (30.4,1009.82) (31.0,1009.95) (31.6,1009.8) (32.2,1009.88) (32.8,1009.76) (33.4,1009.84) (34.0,1009.72) (34.6,1009.82) (35.2,1009.74) (35.8,1009.84) (36.4,1009.7) (37.0,1009.82) (37.6,1009.72) (38.2,1009.8) (38.8,1009.68) (39.4,1009.76) (40.0,1009.66) (40.6,1009.7) (41.2,1009.58) (41.8,1009.67) (42.4,1009.56) (43.0,1009.64) (43.6,1009.53) (44.2,1009.62) (44.8,1009.52) (45.4,1009.58) (46.0,1009.46) (46.6,1009.5) (47.2,1009.38) (47.8,1009.45) (48.4,1009.32) (49.0,1009.38) (49.6,1009.26) (50.2,1009.36) (50.8,1009.24) (51.4,1009.35) (52.0,1009.22) (52.6,1009.34) (53.2,1009.25) (53.8,1009.33) (54.4,1009.22) (55.0,1009.32) (55.6,1009.24) (56.2,1009.34) (56.8,1009.22) (57.4,1009.3) (58.0,1009.2) (58.6,1009.31) (59.2,1009.22) (59.8,1009.3) (60.4,1009.2) (61.0,1009.28) (61.6,1009.19) (62.2,1009.26) (62.8,1009.14) (63.4,1009.2) (64.0,1009.06) (64.6,1009.18) (65.2,1009.04) (65.8,1009.16) (66.4,1009.05) (67.0,1009.15) (67.6,1009.03) (68.2,1009.13) (68.8,1009.04) (69.4,1009.14) (70.0,1009.02) (70.6,1009.12) (71.2,1009.04) (71.8,1009.16) (72.4,1009.3) (72.8,1009.1) (73.2,1009.4) (73.6,1009.15) (74.0,1009.28) (74.4,1009.2)
(110,nan)
(140.8,1008.69) (141.2,1008.45) (141.6,1008.58) (142.3,1008.4) (143.0,1008.52) (143.7,1008.38) (144.4,1008.5) (145.1,1008.37) (145.8,1008.52) (146.5,1008.4) (147.2,1008.5) (147.9,1008.3) (148.6,1008.48) (149.3,1008.38) (150.0,1008.5) (150.7,1008.37) (151.4,1008.52) (152.1,1008.4) (152.8,1008.5) (153.5,1008.32) (154.2,1008.5) (154.9,1008.38) (155.6,1008.52) (156.3,1008.4) (157.0,1008.5) (157.7,1008.38) (158.4,1008.5) (159.1,1008.4) (159.8,1008.52) (160.5,1008.38) (161.2,1008.49) (161.9,1008.37) (162.6,1008.5) (163.3,1008.4) (164.0,1008.51) (164.7,1008.38) (165.4,1008.48) (166.1,1008.4) (166.8,1008.5) (167.5,1008.38) (168.2,1008.48) (168.9,1008.4) (169.6,1008.5) (170.3,1008.37) (171.0,1008.48) (171.7,1008.3) (172.4,1008.47) (173.1,1008.38) (173.8,1008.49) (174.5,1008.4) (175.2,1008.48) (175.9,1008.37) (176.6,1008.42) (177.3,1008.3) (178.0,1008.4) (178.7,1008.32) (179.4,1008.38) (180.1,1008.3) (180.8,1008.38) (181.5,1008.32) (182.2,1008.5) (182.9,1008.38) (183.6,1008.53) (184.3,1008.4) (185.0,1008.52) (185.7,1008.38) (186.4,1008.48) (187.1,1008.37) (187.8,1008.42) (188.5,1008.26) (189.2,1008.2) (189.9,1008.3) (190.6,1008.18) (191.3,1008.28) (192.0,1008.2) (192.7,1008.3) (193.4,1008.18) (194.1,1008.28) (194.8,1008.19) (195.5,1008.29) (196.2,1008.18) (196.9,1008.27) (197.6,1008.2) (198.3,1008.3) (199.0,1008.2) (199.7,1008.27) (200.4,1008.18) (201.1,1008.28) (201.8,1008.2) (202.5,1008.29) (203.2,1008.18) (203.9,1008.25) (204.6,1008.17) (205.3,1008.2) (206.0,1008.1) (206.7,1008.19) (207.4,1008.08) (208.1,1008.18) (208.8,1008.1) (209.5,1008.12) (210.2,1008.0) (210.9,1008.1) (211.6,1007.95) (212.3,1008.08) (213.0,1007.95) (213.7,1008.05) (214.4,1007.93) (215.1,1008.06) (215.8,1007.95) (216.5,1008.04) (217.2,1007.93) (217.9,1008.02) (218.6,1007.92) (219.3,1008.0) (220.0,1007.88) (220.7,1007.92) (221.4,1007.78) (222.1,1007.9) (222.8,1007.76) (223.5,1007.88) (224.2,1007.74) (224.9,1007.86) (225.6,1007.75) (226.3,1007.88) (227.0,1007.76) (227.7,1007.9) (228.4,1007.74) (229.1,1007.86) (229.8,1007.75) (230.5,1007.88) (231.2,1007.73) (231.9,1007.86) (232.6,1007.76) (233.3,1007.9) (234.0,1007.74) (234.7,1007.87) (235.4,1007.75) (236.1,1007.88) (236.8,1007.74) (237.5,1007.86) (238.2,1007.73) (238.9,1007.9) (239.6,1007.76) (240.3,1007.88) (241.0,1007.74) (241.7,1007.87) (242.4,1007.74) (243.1,1007.85) (243.8,1007.72) (244.5,1007.86) (245.2,1007.74) (245.9,1007.84) (246.6,1007.72) (247.3,1007.86) (248.0,1007.75) (248.3,1007.82)
(270,nan)
(298.1,1007.55) (298.5,1007.45) (299.0,1007.6) (299.5,1007.44) (300.0,1007.58) (300.5,1007.39) (301.0,1007.56) (301.5,1007.45) (302.0,1007.6) (302.5,1007.46) (303.0,1007.58) (303.5,1007.45) (304.0,1007.64) (304.6,1007.52) (305.2,1007.66) (305.8,1007.52) (306.4,1007.68) (307.0,1007.55) (307.6,1007.66) (308.2,1007.5) (308.8,1007.64) (309.4,1007.52) (310.0,1007.68) (310.6,1007.55) (311.2,1007.7) (311.8,1007.58) (312.4,1007.78) (313.0,1007.6) (313.6,1007.8) (314.2,1007.62) (314.8,1007.85) (315.4,1007.64) (316.0,1007.78) (316.6,1007.6) (317.2,1007.82) (317.8,1007.62) (318.4,1007.76) (319.0,1007.6) (319.6,1007.78) (320.2,1007.6) (320.8,1007.76) (321.4,1007.58) (322.0,1007.75) (322.6,1007.6) (323.2,1007.78) (323.8,1007.6) (324.4,1007.74) (325.0,1007.58) (325.6,1007.72) (326.2,1007.6) (326.8,1007.74) (327.4,1007.58) (328.0,1007.72) (328.6,1007.6) (329.2,1007.74) (329.8,1007.58) (330.4,1007.7) (331.0,1007.56) (331.6,1007.7) (332.2,1007.55) (332.8,1007.72) (333.4,1007.56) (334.0,1007.7) (334.6,1007.55) (335.2,1007.72) (335.8,1007.57) (336.4,1007.7) (337.0,1007.55) (337.6,1007.72) (338.2,1007.56) (338.8,1007.7) (339.4,1007.54) (340.0,1007.72) (340.6,1007.56) (341.2,1007.7) (341.8,1007.55) (342.4,1007.72) (343.0,1007.56) (343.6,1007.7) (344.2,1007.54) (344.8,1007.72) (345.4,1007.56) (346.0,1007.7) (346.6,1007.55) (347.2,1007.72) (347.8,1007.56) (348.4,1007.7) (349.0,1007.55) (349.6,1007.72) (350.2,1007.56) (350.8,1007.7) (351.4,1007.54) (352.0,1007.72) (352.6,1007.55) (353.2,1007.7) (353.8,1007.54) (354.4,1007.72) (355.0,1007.56) (355.6,1007.7) (356.3,1007.58)
};

% 3m at TS
\addplot[black, line width=0.75pt, forget plot] coordinates {
(0,1011.52) (0.3,1011.25) (0.8,1011.18) (1.2,1011.05) (1.6,1011.12) (2.0,1011.02) (2.4,1011.2) (2.8,1011.1) (3.2,1010.95) (3.6,1010.82) (4.0,1010.9) (4.4,1011.12) (4.8,1010.85) (5.2,1010.7) (5.6,1010.8) (6.2,1010.72) (6.8,1010.8) (7.4,1010.73) (8.0,1010.8) (8.6,1010.72) (9.2,1010.79) (9.8,1010.62) (10.4,1010.78) (11.0,1010.72) (11.6,1010.8) (12.2,1010.63) (12.8,1010.78) (13.4,1010.7) (14.0,1010.76) (14.6,1010.64) (15.2,1010.72) (15.8,1010.62) (16.4,1010.7) (17.0,1010.58) (17.6,1010.66) (18.2,1010.56) (18.8,1010.65) (19.4,1010.55) (20.0,1010.62) (20.6,1010.5) (21.2,1010.56) (21.8,1010.42) (22.4,1010.53) (23.0,1010.45) (23.6,1010.51) (24.2,1010.43) (24.8,1010.52) (25.4,1010.35) (26.0,1010.47) (26.6,1010.41) (27.2,1010.47) (27.8,1010.33) (28.4,1010.4) (29.0,1010.31) (29.6,1010.38) (30.2,1010.3) (30.8,1010.37) (31.4,1010.31) (32.0,1010.38) (32.6,1010.22) (33.2,1010.34) (33.8,1010.25) (34.4,1010.3) (35.0,1010.2) (35.6,1010.28) (36.2,1010.11) (36.8,1010.25) (37.4,1010.18) (38.0,1010.26) (38.6,1010.17) (39.2,1010.24) (39.8,1010.12) (40.4,1010.2) (41.0,1010.08) (41.6,1010.16) (42.2,1010.06) (42.8,1010.14) (43.4,1010.04) (44.0,1010.12) (44.6,1010.03) (45.2,1010.1) (45.8,1009.98) (46.4,1010.02) (47.0,1009.94) (47.6,1010.0) (48.2,1009.88) (48.8,1009.92) (49.4,1009.83) (50.0,1009.9) (50.6,1009.81) (51.2,1009.89) (51.8,1009.8) (52.4,1009.87) (53.0,1009.74) (53.6,1009.85) (54.2,1009.76) (54.8,1009.84) (55.4,1009.74) (56.0,1009.82) (56.6,1009.75) (57.2,1009.84) (57.8,1009.74) (58.4,1009.83) (59.0,1009.73) (59.6,1009.85) (60.2,1009.76) (60.8,1009.82) (61.4,1009.62) (62.0,1009.8) (62.6,1009.9) (63.0,1010.42) (63.4,1009.85) (64.0,1010.02) (64.6,1009.88) (65.2,1010.08) (65.8,1009.95) (66.3,1010.08)
(100,nan)
(138.25,1009.3) (138.5,1009.08) (139.0,1008.98) (139.5,1009.08) (140.0,1008.96) (140.5,1009.02) (141.2,1008.9) (141.9,1009.0) (142.6,1008.89) (143.3,1008.98) (143.9,1008.82) (144.6,1008.96) (145.3,1008.88) (146.0,1008.96) (146.5,1009.1) (147.0,1008.9) (147.7,1008.97) (148.4,1008.88) (149.1,1008.95) (149.8,1008.82) (150.5,1008.9) (151.2,1008.8) (151.9,1008.9) (152.6,1008.81) (153.3,1008.9) (154.0,1008.8) (154.7,1008.88) (155.4,1008.8) (156.1,1008.89) (156.8,1008.8) (157.5,1008.9) (158.2,1008.81) (158.9,1008.88) (159.6,1008.8) (160.3,1008.9) (161.0,1008.84) (161.7,1008.95) (162.4,1008.86) (163.1,1008.96) (163.8,1008.88) (164.2,1009.1) (164.6,1008.92) (165.3,1008.98) (166.0,1008.86) (166.7,1008.96) (167.4,1008.87) (168.1,1008.95) (168.8,1008.86) (169.5,1008.94) (170.2,1008.85) (170.9,1008.95) (171.6,1008.86) (172.3,1008.96) (173.0,1008.85) (173.7,1008.95) (174.4,1008.84) (175.1,1008.94) (175.8,1008.85) (176.5,1008.93) (177.2,1008.82) (178.0,1008.69) (178.5,1008.9) (179.0,1009.0) (179.6,1009.08) (180.2,1009.2) (180.8,1009.12) (181.4,1009.2) (182.0,1009.1) (182.6,1009.19) (183.2,1009.1) (183.8,1009.2) (184.4,1009.1) (185.0,1009.16) (185.6,1009.02) (186.2,1009.08) (186.8,1008.98) (187.4,1009.08) (188.0,1008.94) (188.6,1009.05) (189.2,1008.98) (189.8,1009.06) (190.3,1008.9) (190.6,1008.75) (191.3,1008.8) (192.0,1008.7) (192.7,1008.79) (193.4,1008.69) (194.1,1008.78) (194.8,1008.7) (195.5,1008.79) (196.2,1008.7) (196.9,1008.78) (197.6,1008.69) (198.3,1008.79) (199.0,1008.7) (199.7,1008.78) (200.4,1008.69) (201.1,1008.77) (201.8,1008.7) (202.5,1008.78) (203.2,1008.69) (203.9,1008.7) (204.6,1008.6) (205.3,1008.68) (206.0,1008.6) (206.7,1008.69) (207.4,1008.59) (208.1,1008.67) (208.8,1008.6) (209.5,1008.58) (210.2,1008.48) (210.9,1008.56) (211.6,1008.45) (212.3,1008.55) (213.0,1008.42) (213.7,1008.54) (214.4,1008.44) (215.1,1008.52) (215.8,1008.4) (216.5,1008.5) (217.2,1008.4) (217.9,1008.45) (218.6,1008.33) (219.3,1008.4) (220.0,1008.31) (220.7,1008.4) (221.0,1008.2) (221.4,1008.38) (222.1,1008.3) (222.8,1008.4) (223.5,1008.31) (224.2,1008.4) (224.9,1008.3) (225.6,1008.39) (226.3,1008.31) (227.0,1008.4) (227.2,1008.59) (227.6,1008.38) (228.3,1008.3) (229.0,1008.4) (229.7,1008.31) (230.4,1008.39) (231.1,1008.3) (231.8,1008.4) (232.5,1008.31) (233.2,1008.39) (233.9,1008.3) (234.6,1008.39) (235.3,1008.3) (236.0,1008.4) (236.7,1008.31) (237.4,1008.39) (238.1,1008.3) (238.8,1008.38) (239.5,1008.28) (240.2,1008.4) (240.9,1008.3) (241.6,1008.38) (242.3,1008.22) (243.0,1008.36) (243.7,1008.28) (244.4,1008.38) (245.1,1008.27) (245.8,1008.3) (246.5,1008.18) (247.2,1008.28) (247.9,1008.17) (248.6,1008.27) (249.3,1008.17) (249.8,1008.11)
(270,nan)
(299.3,1007.9) (299.5,1008.1) (300.1,1008.0) (300.7,1008.1) (301.3,1007.98) (301.9,1008.09) (302.5,1007.9) (303.1,1008.08) (303.7,1008.0) (304.3,1008.1) (304.9,1007.98) (305.5,1008.15) (306.1,1008.1) (306.7,1008.18) (307.3,1008.08) (307.9,1008.18) (308.5,1008.1) (309.1,1008.19) (309.7,1008.09) (310.3,1008.18) (310.9,1008.1) (311.5,1008.19) (312.1,1008.08) (312.7,1008.17) (313.3,1008.1) (313.9,1008.18) (314.5,1008.08) (315.1,1008.17) (315.7,1008.09) (316.3,1008.17) (316.9,1008.1) (317.5,1008.18) (318.1,1008.09) (318.7,1008.16) (319.0,1008.29) (319.4,1008.0) (319.9,1008.12) (320.5,1008.05) (321.1,1008.14) (321.7,1008.04) (322.3,1008.13) (322.9,1008.05) (323.5,1008.14) (324.0,1008.06) (324.3,1008.31) (324.7,1008.06) (325.2,1008.13) (325.7,1008.0) (326.2,1008.1) (326.8,1008.02) (327.4,1008.1) (328.0,1008.03) (328.6,1008.12) (329.2,1008.04) (329.8,1008.15) (330.4,1008.06) (331.0,1008.16) (331.6,1008.05) (332.2,1008.12) (332.8,1008.02) (333.4,1008.1) (334.0,1008.02) (334.6,1008.1) (335.2,1008.03) (335.8,1008.11) (336.4,1008.02) (337.0,1008.1) (337.3,1007.9) (337.7,1008.08) (338.3,1008.02) (338.9,1008.1) (339.5,1008.03) (340.1,1008.11) (340.7,1008.03) (341.3,1008.1) (341.9,1007.94) (342.5,1008.06) (343.1,1007.96) (343.7,1008.08) (344.3,1007.95) (344.9,1008.05) (345.5,1007.97) (346.1,1008.08) (346.7,1007.95) (347.3,1008.06) (347.9,1007.97) (348.5,1008.1) (349.1,1008.02) (349.7,1008.12) (350.3,1008.04) (350.9,1008.15) (351.5,1008.06) (352.1,1008.14) (352.7,1008.04) (353.3,1008.12) (353.9,1008.03) (354.5,1008.11) (355.1,1008.02) (355.7,1008.1) (356.3,1008.03) (356.7,1007.9) (357.1,1008.08) (357.7,1008.02) (358.3,1008.1) (358.8,1008.04)
};

% trial markers
\pgfplotsset{trialstyle/.style={trial, line width=0.45pt, mark=*, mark size=1.75pt, forget plot, error bars/.cd, y dir=both, y fixed=0.22, error mark=none, error bar style={line width=1.75pt, trial}}}
\addplot[trialstyle] coordinates {(26.3,1002.24) (52.6,1002.22)};
\addplot[trialstyle] coordinates {(169.6,1002.94) (177.1,1002.94)};
\addplot[trialstyle] coordinates {(200.3,1003.06) (209.5,1003.05)};
\addplot[trialstyle] coordinates {(230.1,1002.98) (241.4,1002.98)};
\addplot[trialstyle] coordinates {(303.7,1002.69) (314.6,1002.71)};
\addplot[trialstyle] coordinates {(341.6,1002.75) (351.7,1002.77)};

% white boxes for title and legend
\fill[white] (axis cs:101.4,1011.96) rectangle (axis cs:295.2,1010.615);
\fill[white] (axis cs:296.4,1011.92) rectangle (axis cs:358.2,1009.82);
\node[anchor=base west, inner sep=0pt, font=\titlesz] at (axis cs:105.2,1011.258) {Changes~~in~~Atmospheric~~Pressure};
\node[anchor=base east, inner sep=0pt, font=\titlesz] at (axis cs:291.4,1010.69) {during~~the Observation};

% trial labels
\tikzset{triallab/.style={fill=white, font=\trialsz, inner xsep=5pt, inner ysep=2.5pt}}
\node[triallab] at (axis cs:49.95,1002.61) {1st~~Trial};
\node[triallab] at (axis cs:170.0,1002.48) {2nd~~Trial};
\node[triallab] at (axis cs:204.6,1002.52) {3rd~~Trial};
\node[triallab] at (axis cs:238.2,1002.545) {4th~~Trial};
\node[triallab] at (axis cs:305.3,1002.29) {5th~~Trial};
\node[triallab] at (axis cs:348.1,1002.29) {6th~~Trial};

% annotation
\draw[fill=annot, line width=0.5pt] (axis cs:73.9,1004.377) rectangle (axis cs:158.7,1002.502);
\node[anchor=north west, align=left, inner sep=0pt, font=\cjk\notesz] at (axis cs:78.7,1004.16) {最初は高高度\\（50m程度）から\\アプローチした};
\draw[line width=0.9pt, -{Straight Barb[length=4.5pt,width=7pt]}] (axis cs:73.9,1003.11) -- (axis cs:30.3,1002.676);

% axis titles
\node[rotate=90, font=\labsz] at (axis cs:-25.2,1007.115) {Atmosphere\hspace{4.2pt}Pressure\hspace{14pt}[~hPa~]};
\node[font=\labsz] at (axis cs:171.8,1001.226) {Time};
\node[font=\labsz] at (axis cs:207.25,1001.226) {[~hour~:~minute~]};
\end{axis}
\end{tikzpicture}
\end{document}
